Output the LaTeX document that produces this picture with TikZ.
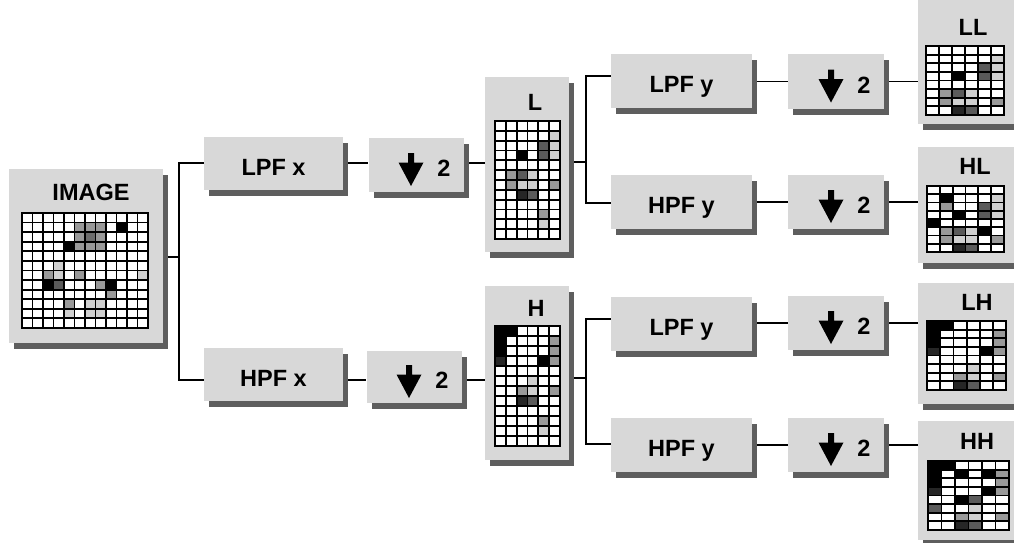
\documentclass[tikz,border=0pt]{standalone}
\usepackage{fontspec}
\setmainfont{Liberation Sans}
\usetikzlibrary{shadows}
\definecolor{panelgray}{HTML}{D8D8D8}
\definecolor{shadowgray}{HTML}{5E5E5E}
\definecolor{K}{HTML}{000000}
\definecolor{D}{HTML}{262626}
\definecolor{M}{HTML}{5A5A5A}
\definecolor{G}{HTML}{999999}
\definecolor{Lg}{HTML}{D0D0D0}
\pgfdeclarelayer{background}
\pgfsetlayers{background,main}
\newcommand\lblfont{\fontsize{23.5}{27}\selectfont\bfseries}
% x0 y0 cw ch ncols nrows fills
\newcommand\cellgrid[7]{%
  \fill[white] (#1,#2) rectangle ++({#5*#3},{#6*#4});
  \foreach \c/\r/\k in {#7} {\fill[\k] ({#1+\c*#3},{#2+\r*#4}) rectangle ++(#3,#4);}
  \foreach \i in {0,...,#5} {\draw[gridline] ({#1+\i*#3},#2) -- ++(0,{#6*#4});}
  \foreach \j in {0,...,#6} {\draw[gridline] (#1,{#2+\j*#4}) -- ++({#5*#3},0);}
}
\tikzset{
  shadowed/.style={drop shadow={shadow xshift=5pt,shadow yshift=-6pt,fill=shadowgray,opacity=1}},
  pnl/.style={fill=panelgray,inner sep=0pt,shadowed},
  flt/.style={fill=panelgray,inner sep=0pt,shadowed,minimum width=139pt,minimum height=53pt,
              font=\lblfont,text height=23.8pt,text depth=0pt},
  dnbox/.style={fill=panelgray,inner sep=0pt,shadowed,minimum width=95pt,minimum height=54pt},
  captxt/.style={font=\lblfont,inner sep=0pt,text height=16.8pt,text depth=0pt},
  wire/.style={line width=1.5pt,black},
  gridline/.style={line width=1.8pt,black,line cap=rect},
  dnarrow/.pic={\fill[black] (-3,-12) -- (3,-12) -- (3,-2.5) -- (12.5,-2.5) -- (0,21) -- (-12.5,-2.5) -- (-3,-2.5) -- cycle;}
}
\begin{document}
\begin{tikzpicture}[x=1pt,y=-1pt]
\useasboundingbox (0,0) rectangle (1014,542);
% panels
\node[pnl,minimum width=154pt,minimum height=174pt] (img) at (86,256) {};
\node[pnl,minimum width=84pt,minimum height=175pt] (L) at (527,164.5) {};
\node[pnl,minimum width=84pt,minimum height=174pt] (H) at (527,373) {};
\node[pnl,minimum width=102pt,minimum height=124pt] (LL) at (969,62) {};
\node[pnl,minimum width=102pt,minimum height=116pt] (HL) at (969,205) {};
\node[pnl,minimum width=102pt,minimum height=121pt] (LH) at (969,343.5) {};
\node[pnl,minimum width=102pt,minimum height=119pt] (HH) at (969,480.5) {};
% labels
\node[captxt] (imgt) at (91,192) {IMAGE};
\node[captxt] (Lt) at (535,102) {L};
\node[captxt] (Ht) at (536,308) {H};
\node[captxt] (LLt) at (973,27) {LL};
\node[captxt] (HLt) at (975,166) {HL};
\node[captxt] (LHt) at (977,302) {LH};
\node[captxt] (HHt) at (977,441) {HH};
% filters
\node[flt] (lpfx) at (273.5,163.5) {LPF x};
\node[flt] (hpfx) at (273.5,374.5) {HPF x};
\node[flt,minimum width=141pt,minimum height=54pt] (lpfy1) at (681.5,81) {LPF y};
\node[flt,minimum width=141pt,minimum height=54pt] (hpfy1) at (681.5,202) {HPF y};
\node[flt,minimum width=141pt,minimum height=54pt] (lpfy2) at (681.5,323.5) {LPF y};
\node[flt,minimum width=141pt,minimum height=54pt] (hpfy2) at (681.5,444.5) {HPF y};
% downsamplers
\node[dnbox] (d1) at (416,165) {};
\node[dnbox,minimum height=52pt] (d2) at (414,377) {};
\node[dnbox,minimum width=96pt,minimum height=55pt] (d3) at (836,81.5) {};
\node[dnbox,minimum width=96pt] (d4) at (836,202) {};
\node[dnbox,minimum width=96pt] (d5) at (836,323) {};
\node[dnbox,minimum width=96pt] (d6) at (836,445) {};
\foreach \d in {d1,d2,d3,d4,d5,d6} {
  \pic at ([xshift=-5pt]\d.center) {dnarrow};
  \node[captxt,text height=23.8pt] (\d n) at ([xshift=28pt]\d.center) {2};
}
% connectors
\begin{pgfonlayer}{background}
\coordinate (j1) at (179,257);
\coordinate (ax) at (179,163);
\coordinate (bx) at (179,380);
\draw[wire] (img.east |- j1) -- (j1);
\draw[wire] (lpfx.west |- ax) -- (ax) -- (bx) -- (hpfx.west |- bx);
\draw[wire] (lpfx.east |- ax) -- (d1.west |- ax);
\draw[wire] (d1.east |- ax) -- (L.west |- ax);
\draw[wire] (hpfx.east |- bx) -- (d2.west |- bx);
\draw[wire] (d2.east |- bx) -- (H.west |- bx);
\coordinate (j2) at (586,162);
\coordinate (a1) at (586,76);
\coordinate (b1) at (586,203);
\draw[wire] (L.east |- j2) -- (j2);
\draw[wire] (lpfy1.west |- a1) -- (a1) -- (b1) -- (hpfy1.west |- b1);
\coordinate (j3) at (586,378);
\coordinate (a2) at (586,319);
\coordinate (b2) at (586,444);
\draw[wire] (H.east |- j3) -- (j3);
\draw[wire] (lpfy2.west |- a2) -- (a2) -- (b2) -- (hpfy2.west |- b2);
\draw[wire] (lpfy1.east |- d3.west) -- (d3.west);
\draw[wire] (d3.east) -- (LL.west |- d3.east);
\draw[wire] (hpfy1.east |- d4.west) -- (d4.west);
\draw[wire] (d4.east) -- (HL.west |- d4.east);
\draw[wire] (lpfy2.east |- d5.west) -- (d5.west);
\draw[wire] (d5.east) -- (LH.west |- d5.east);
\draw[wire] (hpfy2.east |- d6.west) -- (d6.west);
\draw[wire] (d6.east) -- (HH.west |- d6.east);
\end{pgfonlayer}
% grids
\cellgrid{22}{213}{10.5}{9.58}{12}{12}{5/1/G,6/1/G,7/1/G,9/1/K,5/2/G,6/2/M!70!G,7/2/G,4/3/K,5/3/G,6/3/G,7/3/G,3/5/Lg,2/6/G,3/6/Lg,5/6/G,11/6/Lg,2/7/K,3/7/M,7/7/G,8/7/K,8/8/G,4/9/G,6/9/Lg,7/9/Lg,4/10/Lg,6/10/Lg,7/10/Lg}
\cellgrid{495}{121}{10.83}{9.83}{6}{12}{5/1/Lg,4/2/M,5/2/Lg,2/3/K,4/3/M,5/3/Lg,1/5/G,2/5/M,3/5/Lg,1/6/G,2/6/Lg,3/6/Lg,5/6/G,2/7/D,3/7/M,4/9/G,4/10/Lg}
\cellgrid{495}{326}{10.83}{10}{6}{12}{0/0/K,1/0/K,0/1/K,5/1/G,0/2/K,5/2/G,0/3/D,4/3/K,5/3/G,3/5/Lg,2/6/G,3/6/Lg,5/6/G,2/7/D,3/7/M,4/9/G,4/10/Lg}
\cellgrid{926}{46}{13}{8.6}{6}{8}{5/1/Lg,4/2/M,5/2/Lg,2/3/K,4/3/M,5/3/Lg,1/5/G,2/5/M,3/5/Lg,1/6/G,2/6/Lg,3/6/Lg,5/6/G,2/7/D,3/7/M}
\cellgrid{927}{186}{12.83}{8.25}{6}{8}{1/1/K,5/1/Lg,1/2/G,4/2/M,5/2/Lg,2/3/K,4/3/M,5/3/Lg,0/4/K,1/5/G,2/5/M,3/5/Lg,4/5/K,1/6/G,2/6/Lg,3/6/Lg,5/6/G,2/7/D,3/7/M}
\cellgrid{927}{321}{13.2}{8.6}{6}{8}{0/0/K,1/0/K,0/1/K,5/1/G,0/2/K,5/2/G,0/3/D,4/3/K,5/3/G,3/5/Lg,2/6/G,3/6/Lg,5/6/G,2/7/D,3/7/M}
\cellgrid{928}{461}{13.5}{8.6}{6}{8}{0/0/K,1/0/K,0/1/K,2/1/K,4/1/K,5/1/G,0/2/K,5/2/G,0/3/D,4/3/K,5/3/G,2/4/K,3/4/M,0/5/M,3/5/Lg,2/6/G,3/6/Lg,5/6/G,2/7/D,3/7/M}
\end{tikzpicture}
\end{document}
